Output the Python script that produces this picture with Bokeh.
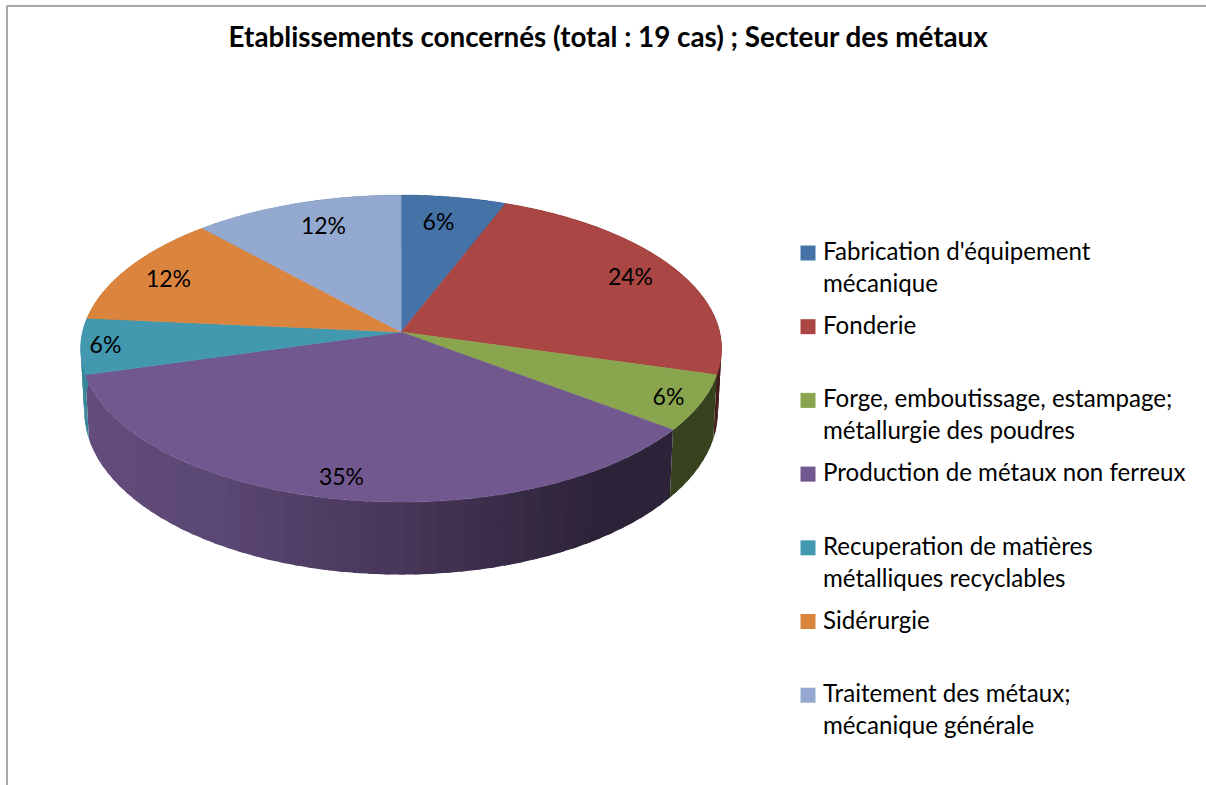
import numpy as np
from bokeh.plotting import figure
from bokeh.models import Range1d
from bokeh.core.properties import value
from bokeh.embed import file_html
from bokeh.resources import INLINE

# ---------- data ----------
title = "Etablissements concernés (total : 19 cas) ; Secteur des métaux"
categories = ["Fabrication d'équipement\nmécanique", "Fonderie",
              "Forge, emboutissage,  estampage;\nmétallurgie des poudres",
              "Production de métaux non ferreux",
              "Recuperation de matières\nmétalliques recyclables",
              "Sidérurgie", "Traitement des métaux;\nmécanique générale"]
values = [1, 4, 1, 6, 1, 2, 2]
colors = ["#4572a7", "#aa4643", "#89a54e", "#71588f", "#4198af", "#db843d", "#93a9cf"]

# ---------- layout (pixel space of the page) ----------
W, H = 1206, 785
FONT = value("Lato")
CX, K = 400.6, 0.1075
TOP = dict(cy=331.6, R=318.6, H=151.7)
BOT = dict(cy=393.0, R=315.0, H=161.6)
label_pos = [(438, 220), (630, 275), (668, 395), (341, 475), (105, 343), (168, 277), (323, 224)]
LEG_Y0, LEG_STEP, LEG_LINE = 252.0, 73.7, 32.0
LEG_TEXT_DY = -2.0


def project(theta, plane):
    u, v = np.sin(theta), np.cos(theta)
    w = 1 + K * v
    return CX + plane["R"] * u / w, plane["cy"] - plane["H"] * v / w


def shade(hex_color, theta):
    f = np.interp(np.sin(theta), [-1.0, -0.5, 0.0, 0.55, 1.0], [0.88, 0.80, 0.62, 0.40, 0.40])
    rgb = [int(hex_color[i:i + 2], 16) for i in (1, 3, 5)]
    return "#%02x%02x%02x" % tuple(int(round(c * f)) for c in rgb)


p = figure(width=W, height=H, x_range=Range1d(0, W), y_range=Range1d(H, 0),
           toolbar_location=None, output_backend="svg", min_border=0,
           margin=0, background_fill_color="white",
           border_fill_color="white", outline_line_color=None)
p.axis.visible = False
p.grid.visible = False

# chart frame (top and left edges only are in the picture)
p.line([6.5, 6.5, W], [H, 5.5, 5.5], line_color="#a8a8a8", line_width=2)

fractions = np.array(values, dtype=float) / sum(values)
edges = np.concatenate([[0.0], np.cumsum(fractions)]) * 2 * np.pi

# side wall, banded so that its shading runs from right to left; each band
# runs on under the next one so no seams show between them
xs, ys, fills = [], [], []
for i, c in enumerate(colors):
    a0, a1 = edges[i], edges[i + 1]
    n = max(1, int(np.ceil((a1 - a0) / np.radians(2.5))))
    t = np.linspace(a0, a1, n + 1)
    step = t[1] - t[0]
    for j in range(n):
        hi = t[j + 1] + (step * 0.4 if j < n - 1 else 0.0)
        seg = np.linspace(t[j], hi, 4)
        xt, yt = project(seg, TOP)
        xb, yb = project(seg[::-1], BOT)
        xs.append(np.concatenate([xt, xb]).tolist())
        ys.append(np.concatenate([yt, yb]).tolist())
        fills.append(shade(c, (t[j] + t[j + 1]) / 2))
p.patches(xs, ys, fill_color=fills, line_color=None)

# top face
xs, ys = [], []
for i in range(len(values)):
    t = np.linspace(edges[i], edges[i + 1], 90)
    x, y = project(t, TOP)
    xs.append([CX] + x.tolist())
    ys.append([TOP["cy"]] + y.tolist())
p.patches(xs, ys, fill_color=colors, line_color=colors, line_width=0.5)

# percentage labels
pct = ["%d%%" % round(f * 100) for f in fractions]
p.text([q[0] for q in label_pos], [q[1] for q in label_pos], text=pct,
       text_font=FONT, text_font_size="23px", text_color="#000000",
       text_align="center", text_baseline="middle")

# title
p.text([608], [35.5], text=[title], text_font=FONT, text_font_size="27.8px",
       text_font_style="bold", text_color="#000000", text_align="center", text_baseline="middle")

# legend
for i, (name, c) in enumerate(zip(categories, colors)):
    y0 = LEG_Y0 + LEG_STEP * i
    p.rect([807.5], [y0 + 0.5], width=15, height=15, fill_color=c, line_color=None)
    for j, line in enumerate(name.split("\n")):
        p.text([822.5], [y0 + LEG_TEXT_DY + j * LEG_LINE], text=[line], text_font=FONT,
               text_font_size="24.1px", text_color="#000000", text_align="left", text_baseline="middle")

open("out.html", "w").write(file_html(p, INLINE))
